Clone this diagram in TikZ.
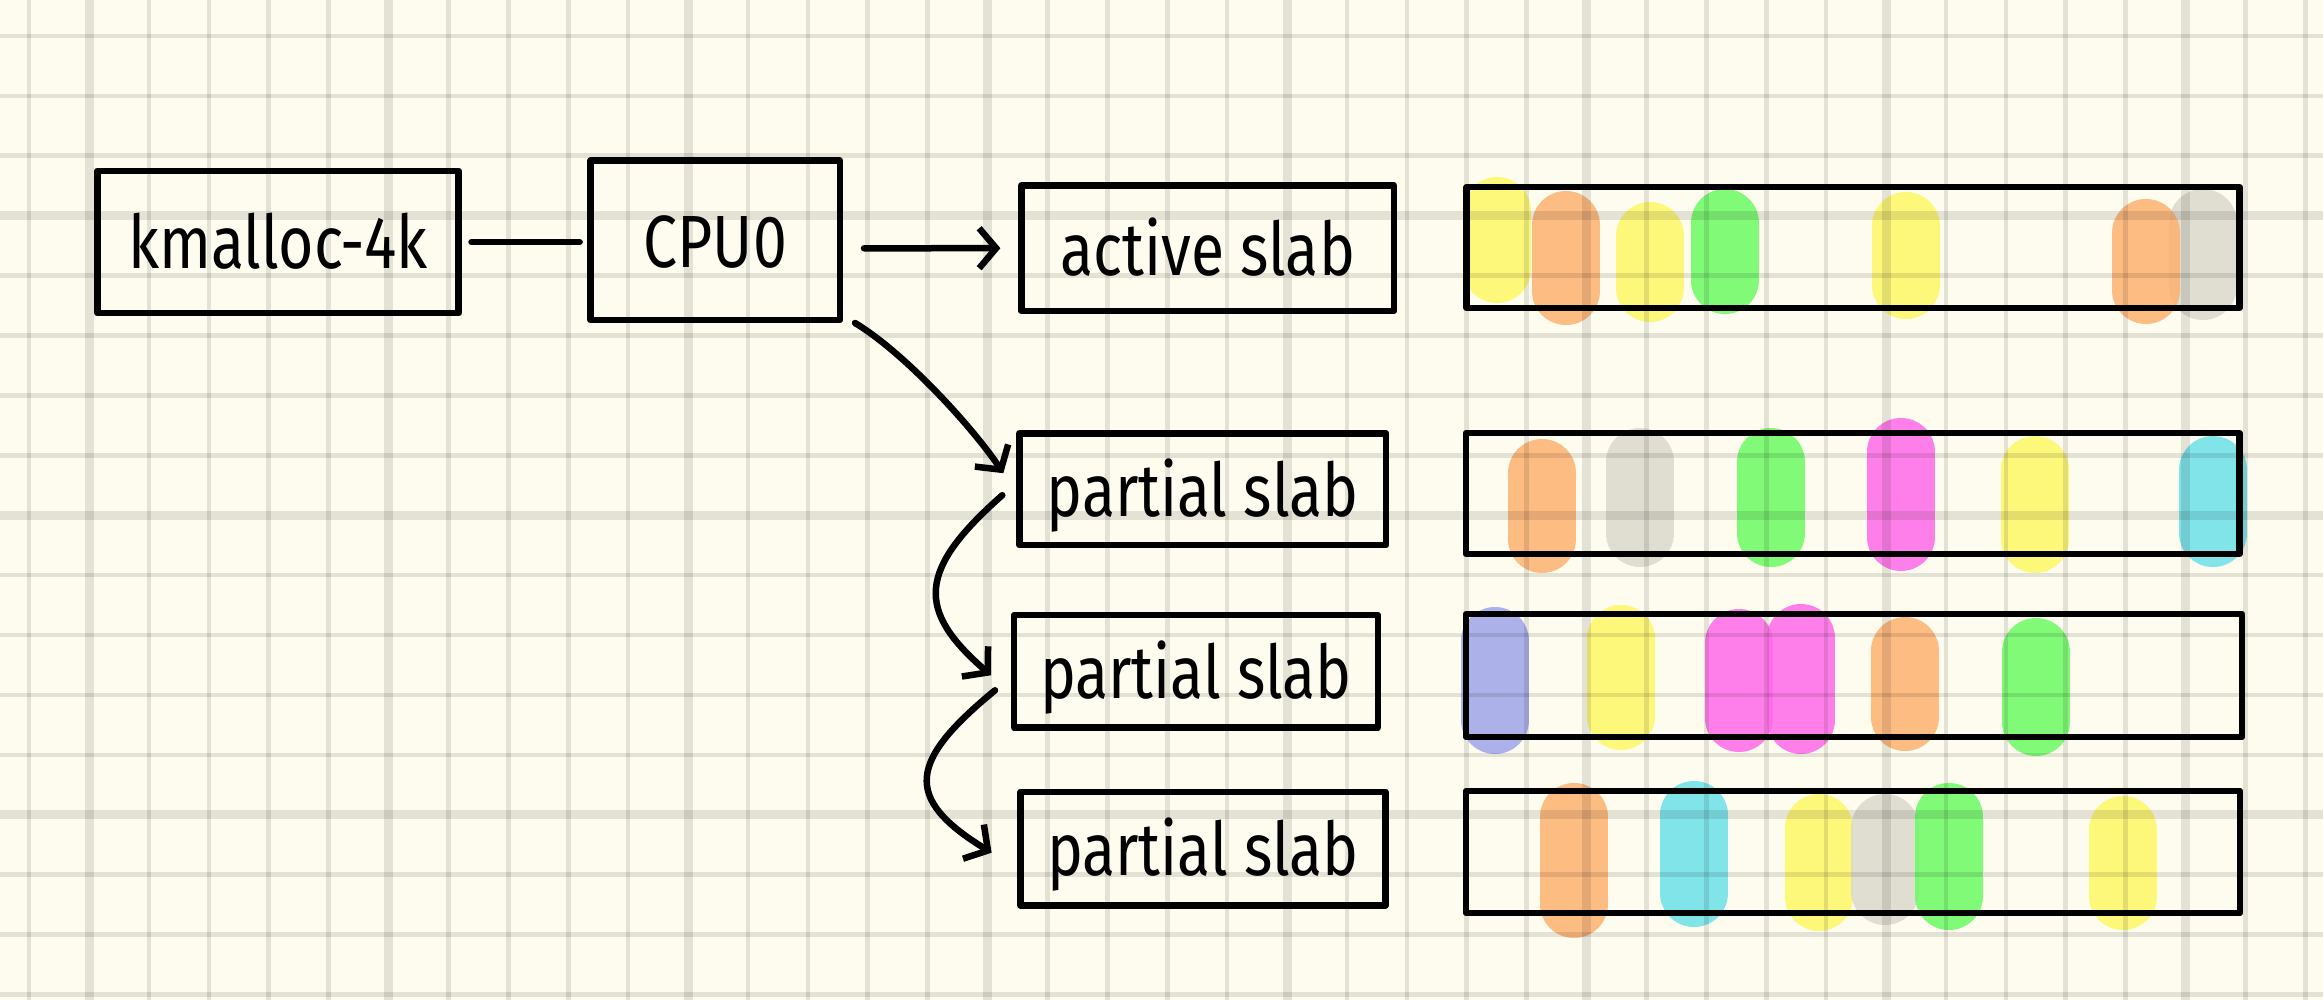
\documentclass[tikz,border=0pt]{standalone}
\usepackage{fontspec}
\setmainfont{Fira Sans}[FakeStretch=0.82]
\usetikzlibrary{arrows.meta,calc}

\definecolor{paper}{RGB}{254,252,238}
\definecolor{hlyellow}{RGB}{253,247,102}
\definecolor{hlorange}{RGB}{253,177,111}
\definecolor{hlgreen}{RGB}{106,250,99}
\definecolor{hlpink}{RGB}{255,106,233}
\definecolor{hlcyan}{RGB}{106,224,233}
\definecolor{hlgray}{RGB}{219,217,205}
\definecolor{hlblue}{RGB}{158,165,233}

% one highlighter stroke: colour, x, top, bottom
\newcommand{\hlmark}[4]{\draw[#1, line width=34pt, line cap=round, opacity=0.85] (#2,#3+34) -- (#2,#4-34);}

\begin{document}
\begin{tikzpicture}[x=0.5pt,y=0.5pt,yscale=-1,xscale=1,
	box/.style={draw, line width=3.25pt, line join=round, inner sep=0pt, outer sep=0pt, font=\fontsize{37}{40}\selectfont, text height=27pt, text depth=0pt},
	strip/.style={draw, line width=3.25pt, line join=round, inner sep=0pt, outer sep=0pt},
	link/.style={line width=3.25pt, line cap=round},
	barb/.style={link, -{Straight Barb[length=8.5pt,width=20pt]}},
	paperline/.style={black, opacity=0.1}]
	
	%Paper
	\fill[paper] (0,0) rectangle (2323,1000);
	\useasboundingbox (0,0) rectangle (2323,1000);
	
	%Highlighter strokes, active slab
	\hlmark{hlyellow}{1497}{177}{303}
	\hlmark{hlorange}{1566}{191}{325}
	\hlmark{hlyellow}{1650}{202}{322}
	\hlmark{hlgreen}{1725}{189}{314}
	\hlmark{hlyellow}{1906}{192}{319}
	\hlmark{hlgray}{2203}{189}{320}
	\hlmark{hlorange}{2146}{199}{324}
	%Highlighter strokes, partial slab 1
	\hlmark{hlorange}{1542}{439}{573}
	\hlmark{hlgray}{1640}{428}{567}
	\hlmark{hlgreen}{1771}{428}{567}
	\hlmark{hlpink}{1901}{418}{571}
	\hlmark{hlyellow}{2035}{436}{573}
	\hlmark{hlcyan}{2213}{436}{567}
	%Highlighter strokes, partial slab 2
	\hlmark{hlblue}{1495}{607}{754}
	\hlmark{hlyellow}{1621}{605}{750}
	\hlmark{hlpink}{1739}{609}{752}
	\hlmark{hlpink}{1801}{604}{754}
	\hlmark{hlorange}{1905}{617}{751}
	\hlmark{hlgreen}{2036}{618}{756}
	%Highlighter strokes, partial slab 3
	\hlmark{hlorange}{1574}{783}{938}
	\hlmark{hlcyan}{1694}{781}{927}
	\hlmark{hlyellow}{1819}{794}{931}
	\hlmark{hlgray}{1885}{794}{925}
	\hlmark{hlgreen}{1949}{783}{930}
	\hlmark{hlyellow}{2123}{796}{930}
	
	%Grid
	\foreach \k in {0,...,38}{
		\pgfmathtruncatemacro{\gw}{mod(\k,5)==1}
		\draw[paperline, line width={2.3pt+2.2pt*\gw}] ({29.1+59.9*\k},0) -- ({29.1+59.9*\k},1000);
	}
	\foreach \j in {0,...,16}{
		\pgfmathtruncatemacro{\gw}{mod(\j,5)==3}
		\draw[paperline, line width={2.3pt+2.2pt*\gw}] (0,{36+59.9*\j}) -- (2323,{36+59.9*\j});
	}
	
	% Text Node
	\node[box, minimum width=180.5pt, minimum height=71.2pt] (km) at (278,242) {kmalloc-4k};
	% Text Node
	\node[box, minimum width=124.7pt, minimum height=79.7pt] (cpu) at (715.3,240.3) {CPU0};
	% Text Node
	\node[box, minimum width=186.3pt, minimum height=62.7pt] (active) at (1207.7,248.2) {active slab};
	% Text Node
	\node[box, minimum width=183.4pt, minimum height=55.9pt] (p1) at (1202.7,489.2) {partial slab};
	% Text Node
	\node[box, minimum width=182pt, minimum height=56.3pt] (p2) at (1196,671.3) {partial slab};
	% Text Node
	\node[box, minimum width=182.4pt, minimum height=56.8pt] (p3) at (1203,848.7) {partial slab};
	
	%Shape: Rectangle
	\node[strip, minimum width=386.3pt, minimum height=60.5pt] (s1) at (1853,247.5) {};
	\node[strip, minimum width=386.7pt, minimum height=60.5pt] (s2) at (1852.7,493.5) {};
	\node[strip, minimum width=388pt, minimum height=61.5pt] (s3) at (1854,675.5) {};
	\node[strip, minimum width=387pt, minimum height=61pt] (s4) at (1853,852) {};
	
	%Straight Lines
	\draw[link, shorten <=6.5pt, shorten >=5.5pt] (km.east) -- (km.east -| cpu.west);
	\draw[barb] ($(cpu.east)+(24,8)$) -- ($(active.west)+(-21,0)$);
	%Curve Lines
	\draw[barb] ($(cpu.south east)+(15,3)$) .. controls +(50,30) and +(-30,-45) .. ($(p1.west)+(-16,-16)$);
	\draw[barb] ($(p1.west)+(-17,6)$) .. controls +(-85,75) and +(-75,-65) .. ($(p2.west)+(-23,4)$);
	\draw[barb] ($(p2.west)+(-19,19)$) .. controls +(-85,70) and +(-90,-55) .. ($(p3.west)+(-29,4)$);
	
\end{tikzpicture}
\end{document}
